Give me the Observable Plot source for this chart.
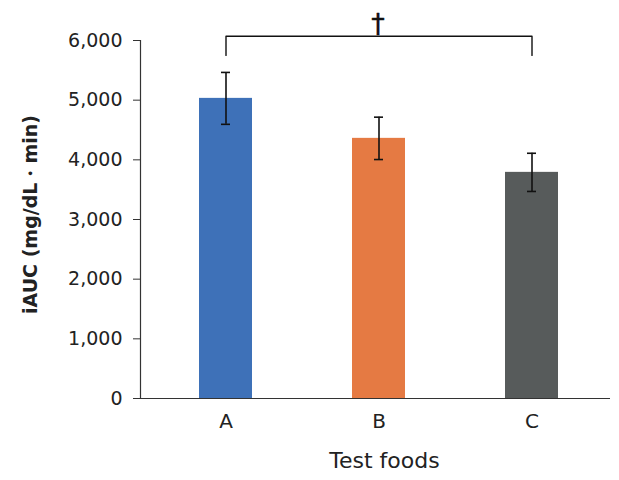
<!DOCTYPE html>
<html>
<head>
<meta charset="utf-8">
<script src="https://cdn.jsdelivr.net/npm/d3@7"></script>
<script src="https://cdn.jsdelivr.net/npm/@observablehq/plot@0.6"></script>
<style>
  html, body { margin: 0; padding: 0; background: #fff; }
  #chart { width: 619px; height: 480px; }
</style>
</head>
<body>
<div id="chart"></div>
<script>
// Data
const categories = ["A", "B", "C"];
const means = [5030, 4360, 3790];
const errors = [435, 355, 320];
const colors = ["#3e71b8", "#e57a43", "#575b5b"];
const yTicks = [0, 1000, 2000, 3000, 4000, 5000, 6000];
const bracketFrom = "A";
const bracketTo = "C";
const bracketTop = 6070;
const bracketBottom = 5750;
const bracketMid = "B";
const bracketSymbol = "†";
const xTitle = "Test foods";
const yTitle = "iAUC (mg/dL・min)";

const rows = categories.map((c, i) => ({
  cat: c, mean: means[i], lo: means[i] - errors[i], hi: means[i] + errors[i], color: colors[i]
}));
const bracket = [
  {x: bracketFrom, y: bracketBottom},
  {x: bracketFrom, y: bracketTop},
  {x: bracketTo, y: bracketTop},
  {x: bracketTo, y: bracketBottom}
];

const font = "'DejaVu Sans', Verdana, sans-serif";

const chart = Plot.plot({
  width: 619,
  height: 480,
  marginLeft: 140,
  marginRight: 9,
  marginTop: 40,
  marginBottom: 82,
  style: {fontFamily: font, fontSize: "18px", color: "#222", background: "#fff"},
  x: {domain: categories, range: [140, 616], paddingInner: 0.655, paddingOuter: 0.378, align: 0.5},
  y: {domain: [0, 6000]},
  marks: [
    Plot.barY(rows, {x: "cat", y: "mean", fill: "color"}),
    Plot.ruleX(rows, {x: "cat", y1: "lo", y2: "hi", stroke: "#111", strokeWidth: 1.6}),
    Plot.tickY(rows, {x: "cat", y: "lo", stroke: "#111", strokeWidth: 1.6, insetLeft: 22, insetRight: 22}),
    Plot.tickY(rows, {x: "cat", y: "hi", stroke: "#111", strokeWidth: 1.6, insetLeft: 22, insetRight: 22}),
    Plot.line(bracket, {x: "x", y: "y", stroke: "#111", strokeWidth: 1.4}),
    Plot.text([bracketSymbol], {x: () => bracketMid, y: () => bracketTop, text: d => d, lineAnchor: "bottom", dy: -3, dx: -1, fontSize: 27, fontWeight: "normal", fill: "#111", stroke: "#111", strokeWidth: 0.4}),
    Plot.frame({anchor: "left", stroke: "#333", strokeWidth: 1.2}),
    Plot.ruleY([0], {stroke: "#333", strokeWidth: 1.2}),
    Plot.axisY({ticks: yTicks, tickFormat: d3.format(","), tickSize: 7, tickPadding: 11, label: null, fontSize: 19, stroke: "#333"}),
    Plot.axisX({tickSize: 0, tickPadding: 15, label: null, fontSize: 20}),
    Plot.text([xTitle], {frameAnchor: "bottom", text: d => d, dy: 69, dx: 9, fontSize: 22, fill: "#222"}),
    Plot.text([yTitle], {frameAnchor: "left", textAnchor: "middle", text: d => d, rotate: -90, dx: -110, dy: -5, fontSize: 19, fontWeight: "bold", fill: "#222"})
  ]
});
document.getElementById("chart").appendChild(chart);
</script>
</body>
</html>
